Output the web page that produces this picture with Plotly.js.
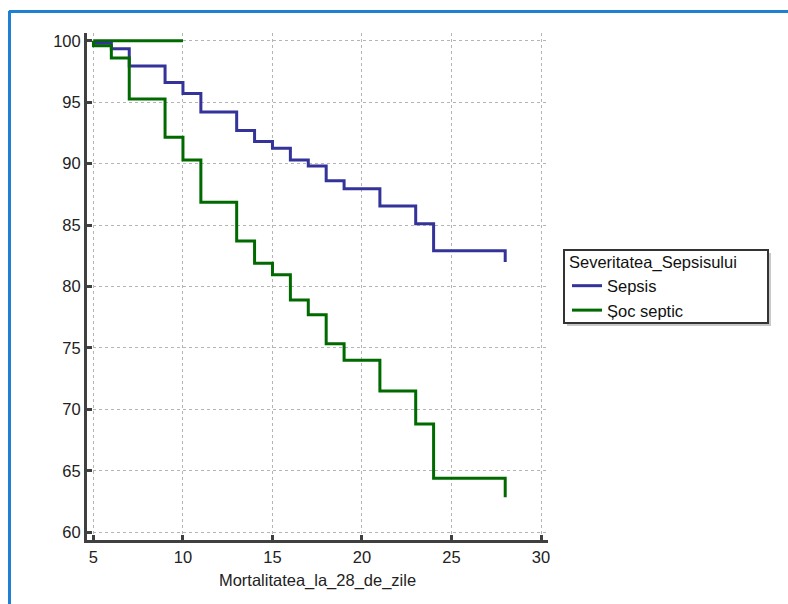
<!DOCTYPE html>
<html>
<head>
<meta charset="utf-8">
<script src="https://cdn.plot.ly/plotly-3.0.1.min.js"></script>
<style>
  html, body { margin: 0; padding: 0; background: #ffffff; }
  #chart { width: 788px; height: 604px; }
</style>
</head>
<body>
<div id="chart"></div>
<script>
// Kaplan-Meier style step data (time in days, survival %)
const sepsisTime  = [5, 6, 7, 9, 10, 11, 13, 14, 15, 16, 17, 18, 19, 21, 23, 24, 28, 28];
const sepsisSurv  = [99.8, 99.35, 97.95, 96.6, 95.7, 94.2, 92.7, 91.8, 91.25, 90.3, 89.8, 88.6, 87.95, 86.55, 85.1, 82.9, 82.9, 82.0];

const socTime     = [5, 5, 6, 7, 9, 10, 11, 13, 14, 15, 16, 17, 18, 19, 21, 23, 24, 28, 28];
const socSurv     = [100, 99.6, 98.6, 95.25, 92.15, 90.3, 86.85, 83.7, 81.9, 80.95, 78.9, 77.7, 75.35, 74.0, 71.5, 68.8, 64.4, 64.4, 62.85];

const socFlatTime = [5, 10];
const socFlatSurv = [100, 100];

const seriesNames = ["Sepsis", "Șoc septic"];
const legendTitle = "Severitatea_Sepsisului";
const xTitle = "Mortalitatea_la_28_de_zile";
const xTicks = [5, 10, 15, 20, 25, 30];
const yTicks = [60, 65, 70, 75, 80, 85, 90, 95, 100];

const blue = "#333399";
const green = "#006a00";
const font = "Liberation Sans, Arial, sans-serif";

const traces = [
  {
    x: socFlatTime, y: socFlatSurv, type: "scatter", mode: "lines",
    line: { color: green, width: 3 }, showlegend: false, hoverinfo: "skip"
  },
  {
    x: sepsisTime, y: sepsisSurv, type: "scatter", mode: "lines", name: seriesNames[0],
    line: { color: blue, width: 3, shape: "hv" }
  },
  {
    x: socTime, y: socSurv, type: "scatter", mode: "lines", name: seriesNames[1],
    line: { color: green, width: 3, shape: "hv" }
  }
];

const L = 87, R = 548, T = 33, B = 540, W = 788, H = 604;
const pw = R - L, ph = B - T;
function px(x) { return (x - L) / pw; }
function py(y) { return (B - y) / ph; }

const layout = {
  width: W, height: H,
  margin: { l: L, r: W - R, t: T, b: H - B, pad: 0 },
  paper_bgcolor: "#ffffff",
  plot_bgcolor: "#ffffff",
  font: { family: font, size: 16.5, color: "#222222" },
  showlegend: true,
  legend: {
    x: px(567), y: py(247), xanchor: "left", yanchor: "top",
    bgcolor: "rgba(0,0,0,0)", borderwidth: 0,
    font: { family: font, size: 16.5, color: "#111111" },
    title: { text: legendTitle, font: { family: font, size: 16.5, color: "#111111" } },
    tracegroupgap: 0
  },
  xaxis: {
    range: [4.64, 30.39],
    tickvals: xTicks, ticktext: xTicks.map(String),
    ticks: "inside", ticklen: 5, tickwidth: 3, tickcolor: "#404040",
    showline: true, linecolor: "#404040", linewidth: 3,
    showgrid: true, gridcolor: "#b4b4b4", griddash: "dot", gridwidth: 1,
    zeroline: false,
    tickfont: { family: font, size: 16.5, color: "#222222" },
    title: { text: xTitle, font: { family: font, size: 16.5, color: "#222222" }, standoff: 10 }
  },
  yaxis: {
    range: [59.37, 100.63],
    tickvals: yTicks, ticktext: yTicks.map(String),
    ticks: "inside", ticklen: 5, tickwidth: 3, tickcolor: "#404040",
    showline: true, linecolor: "#404040", linewidth: 3,
    showgrid: true, gridcolor: "#b4b4b4", griddash: "dot", gridwidth: 1,
    zeroline: false,
    tickfont: { family: font, size: 16.5, color: "#222222" }
  },
  shapes: [
    // outer blue frame (top and left edges)
    { type: "line", xref: "paper", yref: "paper", x0: px(9), x1: px(800), y0: py(11.5), y1: py(11.5),
      line: { color: "#1f7fd0", width: 3 } },
    { type: "line", xref: "paper", yref: "paper", x0: px(9.5), x1: px(9.5), y0: py(11), y1: py(620),
      line: { color: "#1f7fd0", width: 3 } },
    // legend box shadow and frame
    { type: "rect", xref: "paper", yref: "paper", x0: px(567), x1: px(771), y0: py(253), y1: py(326),
      fillcolor: "#c8c8c8", line: { width: 0 } },
    { type: "rect", xref: "paper", yref: "paper", x0: px(564), x1: px(768), y0: py(250), y1: py(323),
      fillcolor: "#ffffff", line: { color: "#333333", width: 2 } }
  ]
};

Plotly.newPlot("chart", traces, layout, { displayModeBar: false, staticPlot: true });
</script>
</body>
</html>
